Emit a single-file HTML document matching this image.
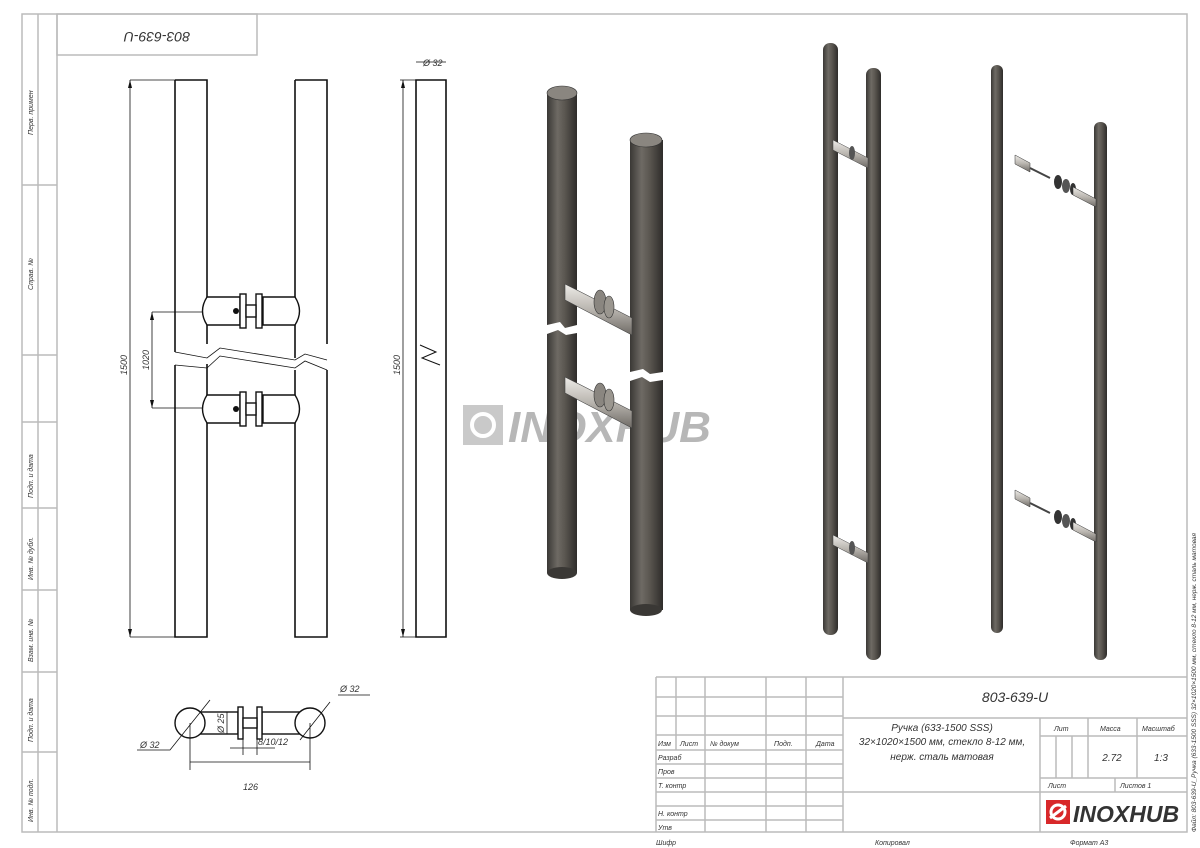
<!DOCTYPE html>
<html><head><meta charset="utf-8"><style>
body{margin:0;background:#fff}
svg{display:block}
text{font-family:"Liberation Sans",sans-serif;font-style:italic;fill:#333}
</style></head><body>
<svg width="1200" height="848" viewBox="0 0 1200 848" xmlns="http://www.w3.org/2000/svg">
<defs>
<linearGradient id="cyl" x1="0" x2="1" y1="0" y2="0">
<stop offset="0" stop-color="#3a3835"/><stop offset="0.35" stop-color="#6e6a64"/><stop offset="0.6" stop-color="#5a5650"/><stop offset="1" stop-color="#2e2c2a"/></linearGradient>
<linearGradient id="met" x1="0" x2="0" y1="0" y2="1">
<stop offset="0" stop-color="#eeece8"/><stop offset="0.5" stop-color="#b9b5af"/><stop offset="1" stop-color="#6f6b66"/></linearGradient>
</defs>
<g fill="none" stroke="#bbb" stroke-width="1.5">
<rect x="22" y="14" width="1165" height="818"/>
<line x1="38" y1="14" x2="38" y2="832"/>
<line x1="57" y1="14" x2="57" y2="832"/>
<rect x="57" y="14" width="200" height="41"/>
<line x1="22" y1="185" x2="57" y2="185"/>
<line x1="22" y1="355" x2="57" y2="355"/>
<line x1="22" y1="422" x2="57" y2="422"/>
<line x1="22" y1="508" x2="57" y2="508"/>
<line x1="22" y1="590" x2="57" y2="590"/>
<line x1="22" y1="672" x2="57" y2="672"/>
<line x1="22" y1="752" x2="57" y2="752"/>
<line x1="656" y1="677" x2="1187" y2="677"/>
<line x1="656" y1="677" x2="656" y2="832"/>
<line x1="676" y1="677" x2="676" y2="750"/>
<line x1="705" y1="677" x2="705" y2="832"/>
<line x1="766" y1="677" x2="766" y2="832"/>
<line x1="806" y1="677" x2="806" y2="832"/>
<line x1="843" y1="677" x2="843" y2="832"/>
<line x1="656" y1="697" x2="843" y2="697"/>
<line x1="656" y1="716" x2="843" y2="716"/>
<line x1="656" y1="735" x2="843" y2="735"/>
<line x1="656" y1="750" x2="843" y2="750"/>
<line x1="656" y1="764" x2="843" y2="764"/>
<line x1="656" y1="778" x2="843" y2="778"/>
<line x1="656" y1="792" x2="843" y2="792"/>
<line x1="656" y1="806" x2="843" y2="806"/>
<line x1="656" y1="820" x2="843" y2="820"/>
<line x1="843" y1="718" x2="1187" y2="718"/>
<line x1="843" y1="792" x2="1187" y2="792"/>
<line x1="1040" y1="718" x2="1040" y2="832"/>
<line x1="1040" y1="736" x2="1187" y2="736"/>
<line x1="1040" y1="778" x2="1187" y2="778"/>
<line x1="1088" y1="718" x2="1088" y2="778"/>
<line x1="1137" y1="718" x2="1137" y2="778"/>
<line x1="1056" y1="736" x2="1056" y2="778"/>
<line x1="1072" y1="736" x2="1072" y2="778"/>
<line x1="1115" y1="778" x2="1115" y2="792"/>
</g>
<g font-size="7">
<text transform="translate(33,135) rotate(-90)">Перв. примен</text>
<text transform="translate(33,290) rotate(-90)">Справ. №</text>
<text transform="translate(33,498) rotate(-90)">Подп. и дата</text>
<text transform="translate(33,580) rotate(-90)">Инв. № дубл.</text>
<text transform="translate(33,662) rotate(-90)">Взам. инв. №</text>
<text transform="translate(33,742) rotate(-90)">Подп. и дата</text>
<text transform="translate(33,822) rotate(-90)">Инв. № подл.</text>
<text x="658" y="746">Изм</text><text x="680" y="746">Лист</text><text x="710" y="746">№ докум</text><text x="774" y="746">Подп.</text><text x="816" y="746">Дата</text>
<text x="658" y="760">Разраб</text><text x="658" y="774">Пров</text><text x="658" y="788">Т. контр</text><text x="658" y="816">Н. контр</text><text x="658" y="830">Утв</text>
<text x="656" y="845">Шифр</text><text x="875" y="845">Копировал</text><text x="1070" y="845">Формат А3</text>
<text x="1054" y="731">Лит</text><text x="1100" y="731">Масса</text><text x="1142" y="731">Масштаб</text>
<text x="1048" y="788">Лист</text><text x="1120" y="788">Листов 1</text>
<text transform="translate(1196,832) rotate(-90)" font-size="6.5">Файл: 803-639-U_Ручка (633-1500 SSS) 32×1020×1500 мм, стекло 8-12 мм, нерж. сталь матовая</text>
</g>
<text x="1015" y="702" font-size="14" text-anchor="middle">803-639-U</text>
<text x="942" y="731" font-size="10" text-anchor="middle">Ручка (633-1500 SSS)</text>
<text x="942" y="745" font-size="10" text-anchor="middle">32×1020×1500 мм, стекло 8-12 мм,</text>
<text x="942" y="760" font-size="10" text-anchor="middle">нерж. сталь матовая</text>
<text x="1112" y="761" font-size="10" text-anchor="middle">2.72</text>
<text x="1161" y="761" font-size="10" text-anchor="middle">1:3</text>
<text x="157" y="42" font-size="14" text-anchor="middle" transform="rotate(180,157,37)">803-639-U</text>
<rect x="1046" y="800" width="24" height="24" fill="#d8282a"/>
<circle cx="1058" cy="812" r="7" fill="none" stroke="#fff" stroke-width="3"/>
<line x1="1050" y1="818" x2="1066" y2="806" stroke="#fff" stroke-width="3"/>
<text x="1073" y="822" font-size="23" font-weight="bold" font-style="normal" fill="#222">INOXHUB</text>
<g fill="none" stroke="#111" stroke-width="1.6">
<path d="M175 80H207V344 M175 80V352 M175 365V637H207V364"/>
<path d="M295 80H327V344 M295 80V358 M295 370V637H327V370"/>
<path d="M416 80H446V637H416Z"/>
</g>
<g fill="none" stroke="#111" stroke-width="0.8">
<path d="M175 352L207 358L220 348L295 360L305 354L327 360"/>
<path d="M175 365L207 368L220 356L295 368L305 361L327 370"/>
<path d="M130 80H175 M130 637H175 M130 80V637"/>
<path d="M152 312H240 M152 408H240 M152 312V408"/>
<path d="M400 80H416 M400 637H416 M403 80V637 M416 62H446"/>
<path d="M420 345L436 352L422 358L440 365" stroke-width="1"/>
</g>
<g fill="#111"><path d="M130 80l-2 8h4z M130 637l-2-8h4z M152 312l-2 8h4z M152 408l-2-8h4z M403 80l-2 8h4z M403 637l-2-8h4z"/></g>
<g font-size="9" fill="#333">
<text transform="translate(127,375) rotate(-90)">1500</text>
<text transform="translate(149,370) rotate(-90)">1020</text>
<text transform="translate(400,375) rotate(-90)">1500</text>
<text x="423" y="66">Ø 32</text>
</g>
<g fill="#fff" stroke="#111" stroke-width="1.4">
<path d="M207 297H240V325H207Q198 311 207 297Z"/><path d="M295 297H263V325H295Q304 311 295 297Z"/>
<rect x="240" y="294" width="6" height="34"/><rect x="256" y="294" width="6" height="34"/><rect x="246" y="305" width="10" height="12"/>
<path d="M207 395H240V423H207Q198 409 207 395Z"/><path d="M295 395H263V423H295Q304 409 295 395Z"/>
<rect x="240" y="392" width="6" height="34"/><rect x="256" y="392" width="6" height="34"/><rect x="246" y="403" width="10" height="12"/>
</g>
<circle cx="236" cy="311" r="3" fill="#111"/><circle cx="236" cy="409" r="3" fill="#111"/>
<g fill="#fff" stroke="#111" stroke-width="1.4">
<rect x="200" y="712" width="38" height="22"/><rect x="262" y="712" width="38" height="22"/>
<rect x="238" y="707" width="5" height="32"/><rect x="257" y="707" width="5" height="32"/><rect x="243" y="718" width="14" height="10"/>
<circle cx="190" cy="723" r="15"/><circle cx="310" cy="723" r="15"/>
</g>
<g fill="none" stroke="#111" stroke-width="0.8">
<path d="M137 750H170L210 700 M338 695H370 M300 740L330 702 M190 723V770 M310 723V770 M190 762H310 M243 730V755 M257 730V755 M230 748H275 M227 712V734"/>
</g>
<g font-size="9">
<text x="140" y="748">Ø 32</text><text x="340" y="692">Ø 32</text>
<text x="258" y="745">8/10/12</text><text x="243" y="790">126</text>
<text transform="translate(224,733) rotate(-90)">Ø 25</text>
</g>
<g opacity="0.35">
<rect x="463" y="405" width="40" height="40" fill="#666"/>
<circle cx="483" cy="425" r="11" fill="none" stroke="#fff" stroke-width="4"/>
<text x="508" y="442" font-size="44" font-weight="bold" font-style="normal" fill="#666">INOXHUB</text>
</g>
<!-- 3D large -->
<g>
<path d="M547 93V325L560 322L565 328L577 325V93Z" fill="url(#cyl)"/>
<ellipse cx="562" cy="93" rx="15" ry="7" fill="#8a8680" stroke="#333" stroke-width="0.6"/>
<path d="M547 334L558 330L566 335L577 333V573H547Z" fill="url(#cyl)"/>
<ellipse cx="562" cy="573" rx="15" ry="6" fill="#3a3835"/>
<path d="M630 140V372L643 369L650 374L663 372V140Z" fill="url(#cyl)"/>
<ellipse cx="646" cy="140" rx="16" ry="7" fill="#8a8680" stroke="#333" stroke-width="0.6"/>
<path d="M630 381L642 377L650 382L663 380V610H630Z" fill="url(#cyl)"/>
<ellipse cx="646" cy="610" rx="16" ry="6" fill="#3a3835"/>
<path d="M565 284L632 318L632 335L565 300Z" fill="url(#met)" stroke="#444" stroke-width="0.6"/>
<ellipse cx="600" cy="302" rx="6" ry="12" fill="#8a8680" stroke="#333" stroke-width="0.6"/>
<ellipse cx="609" cy="307" rx="5" ry="11" fill="#9a968f" stroke="#333" stroke-width="0.6"/>
<path d="M565 377L632 411L632 428L565 393Z" fill="url(#met)" stroke="#444" stroke-width="0.6"/>
<ellipse cx="600" cy="395" rx="6" ry="12" fill="#8a8680" stroke="#333" stroke-width="0.6"/>
<ellipse cx="609" cy="400" rx="5" ry="11" fill="#9a968f" stroke="#333" stroke-width="0.6"/>
</g>
<!-- thin rods -->
<g>
<rect x="823" y="43" width="15" height="592" rx="7" fill="url(#cyl)"/>
<rect x="866" y="68" width="15" height="592" rx="7" fill="url(#cyl)"/>
<path d="M833 140L868 158L868 168L833 150Z" fill="url(#met)" stroke="#444" stroke-width="0.5"/>
<ellipse cx="852" cy="153" rx="3" ry="7" fill="#555"/>
<path d="M833 535L868 553L868 563L833 545Z" fill="url(#met)" stroke="#444" stroke-width="0.5"/>
<ellipse cx="852" cy="548" rx="3" ry="7" fill="#555"/>
<rect x="991" y="65" width="12" height="568" rx="6" fill="url(#cyl)"/>
<rect x="1094" y="122" width="13" height="538" rx="6" fill="url(#cyl)"/>
<path d="M1015 155L1030 163L1030 172L1015 164Z" fill="url(#met)" stroke="#333" stroke-width="0.5"/>
<line x1="1030" y1="168" x2="1050" y2="178" stroke="#444" stroke-width="2"/>
<ellipse cx="1058" cy="182" rx="4" ry="7" fill="#333"/><ellipse cx="1066" cy="186" rx="4" ry="7" fill="#555"/><ellipse cx="1073" cy="189" rx="3" ry="6" fill="#333"/>
<path d="M1073 187L1096 199L1096 207L1073 195Z" fill="url(#met)" stroke="#333" stroke-width="0.5"/>
<path d="M1015 490L1030 498L1030 507L1015 499Z" fill="url(#met)" stroke="#333" stroke-width="0.5"/>
<line x1="1030" y1="503" x2="1050" y2="513" stroke="#444" stroke-width="2"/>
<ellipse cx="1058" cy="517" rx="4" ry="7" fill="#333"/><ellipse cx="1066" cy="521" rx="4" ry="7" fill="#555"/><ellipse cx="1073" cy="524" rx="3" ry="6" fill="#333"/>
<path d="M1073 522L1096 534L1096 542L1073 530Z" fill="url(#met)" stroke="#333" stroke-width="0.5"/>
</g>
</svg>
</body></html>
